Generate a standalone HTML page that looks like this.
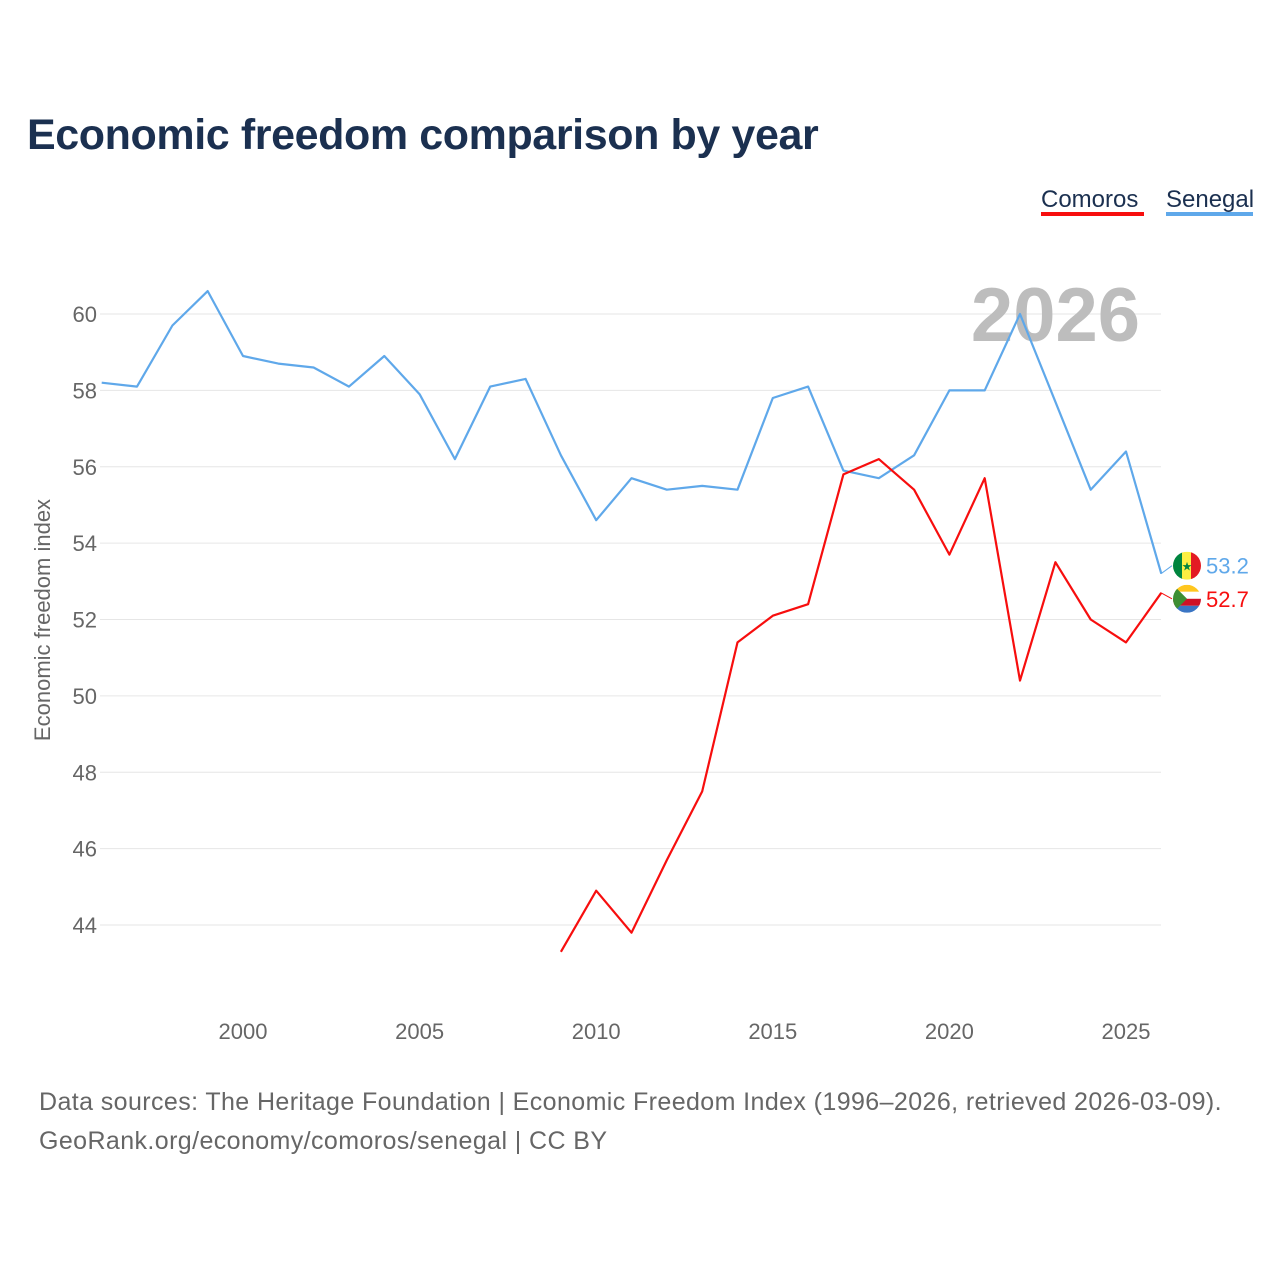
<!DOCTYPE html>
<html><head><meta charset="utf-8">
<style>
html,body{margin:0;padding:0;background:#fff;}
body{width:1280px;height:1280px;position:relative;font-family:"Liberation Sans",sans-serif;overflow:hidden;}
#title{position:absolute;left:27px;top:111px;font-size:43px;font-weight:bold;color:#1b3050;letter-spacing:-0.4px;}
.src{position:absolute;left:39px;font-size:25px;color:#666;letter-spacing:0.4px;}
</style></head><body>
<div id="title">Economic freedom comparison by year</div>
<svg id="chart" width="1280" height="1280" style="position:absolute;left:0;top:0"></svg>
<div class="src" style="top:1088px">Data sources: The Heritage Foundation | Economic Freedom Index (1996–2026, retrieved 2026-03-09).</div>
<div class="src" style="top:1127px">GeoRank.org/economy/comoros/senegal | CC BY</div>
<script>
const senegalYears=[1996,1997,1998,1999,2000,2001,2002,2003,2004,2005,2006,2007,2008,2009,2010,2011,2012,2013,2014,2015,2016,2017,2018,2019,2020,2021,2022,2023,2024,2025,2026];
const senegalValues=[58.2,58.1,59.7,60.6,58.9,58.7,58.6,58.1,58.9,57.9,56.2,58.1,58.3,56.3,54.6,55.7,55.4,55.5,55.4,57.8,58.1,55.9,55.7,56.3,58.0,58.0,60.0,57.7,55.4,56.4,53.2];
const comorosYears=[2009,2010,2011,2012,2013,2014,2015,2016,2017,2018,2019,2020,2021,2022,2023,2024,2025,2026];
const comorosValues=[43.3,44.9,43.8,45.7,47.5,51.4,52.1,52.4,55.8,56.2,55.4,53.7,55.7,50.4,53.5,52.0,51.4,52.7];
const yTicks=[44,46,48,50,52,54,56,58,60];
const xTicks=[2000,2005,2010,2015,2020,2025];
const NS='http://www.w3.org/2000/svg';
const svg=document.getElementById('chart');
const X=y=>243+(y-2000)*35.32;
const Y=v=>314+(60-v)*38.19;
function el(t,a,txt){const e=document.createElementNS(NS,t);for(const k in a)e.setAttribute(k,a[k]);if(txt!==undefined)e.textContent=txt;svg.appendChild(e);return e;}
yTicks.forEach(v=>{
 const g=el('line',{x1:100,x2:1161,y1:Y(v),y2:Y(v),stroke:'#e6e6e6','stroke-width':1});
 
 
 const t=el('text',{x:97,y:Y(v)+8,'text-anchor':'end','font-size':22,fill:'#666','font-family':'Liberation Sans'},String(v));
 
 
});
xTicks.forEach(v=>{
 const t=el('text',{x:X(v),y:1039,'text-anchor':'middle','font-size':22,fill:'#666','font-family':'Liberation Sans'},String(v));
 
 
});
const yt=el('text',{x:0,y:0,transform:'translate(50,620) rotate(-90)','text-anchor':'middle','font-size':22,fill:'#666','font-family':'Liberation Sans'},'Economic freedom index');


const yr=el('text',{x:1140,y:341,'text-anchor':'end','font-size':76,'font-weight':'bold',fill:'#bdbdbd','font-family':'Liberation Sans'},'2026');


function line(xs,vs,color,name){
 const d=xs.map((x,i)=>(i?'L':'M')+X(x).toFixed(1)+','+Y(vs[i]).toFixed(1)).join(' ');
 const p=el('path',{d:d,fill:'none',stroke:color,'stroke-width':2.2,'stroke-linejoin':'round'});
 
 
}
line(senegalYears,senegalValues,'#5fa8ea','senegal-line');
line(comorosYears,comorosValues,'#f70e0e','comoros-line');
const sv=senegalValues[senegalValues.length-1], cv=comorosValues[comorosValues.length-1];
const sY=Y(sv)-8, cY=Y(cv)+6;
el('line',{x1:1161,y1:Y(sv),x2:1172,y2:sY,stroke:'#5fa8ea','stroke-width':1});
el('line',{x1:1161,y1:Y(cv),x2:1172,y2:cY,stroke:'#f70e0e','stroke-width':1});
const f1=el('g',{});


f1.innerHTML=`<defs><clipPath id="cs"><circle cx="1187" cy="${sY}" r="14"/></clipPath><clipPath id="cc"><circle cx="1187" cy="${cY}" r="14"/></clipPath></defs>
<g clip-path="url(#cs)"><rect x="1173" y="${sY-14}" width="10" height="28" fill="#00853f"/><rect x="1182" y="${sY-14}" width="10" height="28" fill="#fdef42"/><rect x="1191" y="${sY-14}" width="10" height="28" fill="#e31b23"/><text x="1187" y="${sY+5}" font-size="12" text-anchor="middle" fill="#00853f">★</text></g>
<g clip-path="url(#cc)"><rect x="1173" y="${cY-14}" width="28" height="7" fill="#ffc61e"/><rect x="1173" y="${cY-7}" width="28" height="7" fill="#fff"/><rect x="1173" y="${cY}" width="28" height="7" fill="#ce1126"/><rect x="1173" y="${cY+7}" width="28" height="7" fill="#3a75c4"/><polygon points="1173,${cY-14} 1187,${cY} 1173,${cY+14}" fill="#3d8e33"/></g>`;
const sl=el('text',{x:1206,y:sY+8,'font-size':22,fill:'#5fa8ea','font-family':'Liberation Sans'},sv.toFixed(1));


const cl=el('text',{x:1206,y:cY+8,'font-size':22,fill:'#f70e0e','font-family':'Liberation Sans'},cv.toFixed(1));


const l1=el('text',{x:1041,y:207,'font-size':24,fill:'#1b3050','font-family':'Liberation Sans'},'Comoros');


el('rect',{x:1041,y:212,width:103,height:4,fill:'#f70e0e'});
const l2=el('text',{x:1166,y:207,'font-size':24,fill:'#1b3050','font-family':'Liberation Sans'},'Senegal');


el('rect',{x:1166,y:212,width:87,height:4,fill:'#5fa8ea'});
</script>
</body></html>
